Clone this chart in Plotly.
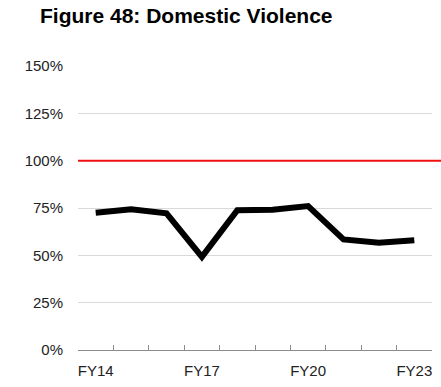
import plotly.graph_objects as go

# Fiscal years and the domestic violence rate for each
years = ["FY14", "FY15", "FY16", "FY17", "FY18", "FY19", "FY20", "FY21", "FY22", "FY23"]
rate = [72.5, 74.3, 72.2, 49.2, 73.8, 74.1, 76.0, 58.4, 56.6, 58.0]
year_labels = ["FY14", "", "", "FY17", "", "", "FY20", "", "", "FY23"]
y_ticks = [0, 25, 50, 75, 100, 125, 150]
y_tick_text = ["0%", "25%", "50%", "75%", "100%", "125%", "150%"]
target = 100
y_max = 150

FONT = "Liberation Sans, Arial, sans-serif"

fig = go.Figure()
fig.add_trace(go.Scatter(
    x=years, y=rate, mode="lines",
    line=dict(color="black", width=6),
    showlegend=False, hoverinfo="skip",
))

# Red target line at 100%, running on to the right edge of the page
fig.add_shape(type="line", xref="paper", yref="paper",
              x0=0, x1=1.03, y0=target / y_max, y1=target / y_max,
              line=dict(color="#ee1111", width=2), layer="above")

fig.update_layout(
    width=441, height=387,
    margin=dict(l=78, r=9, t=66, b=37),
    paper_bgcolor="white", plot_bgcolor="white",
    font=dict(family=FONT, size=15, color="#222222"),
    title=dict(text="<b>Figure 48: Domestic Violence</b>",
               x=40 / 441, xanchor="left", y=1 - 16 / 387, yanchor="middle",
               font=dict(family=FONT, size=21, color="black")),
)
fig.update_xaxes(
    type="category", tickmode="array", tickvals=years, ticktext=year_labels,
    tickson="boundaries", ticks="inside", ticklen=5, tickcolor="#8c8c8c",
    tickwidth=1, tickangle=0, ticklabelstandoff=7,
    showline=True, linecolor="#8c8c8c", linewidth=1, showgrid=False,
    range=[-0.5, len(years) - 0.5], tickfont=dict(size=15, color="#222222"),
)
fig.update_yaxes(
    range=[0, y_max], tickmode="array", tickvals=y_ticks, ticktext=y_tick_text,
    showgrid=True, gridcolor="#d9d9d9", gridwidth=1, zeroline=False,
    showline=False, ticks="", ticklabelstandoff=14,
    tickfont=dict(size=15, color="#222222"),
)

fig.write_html("out.html")
